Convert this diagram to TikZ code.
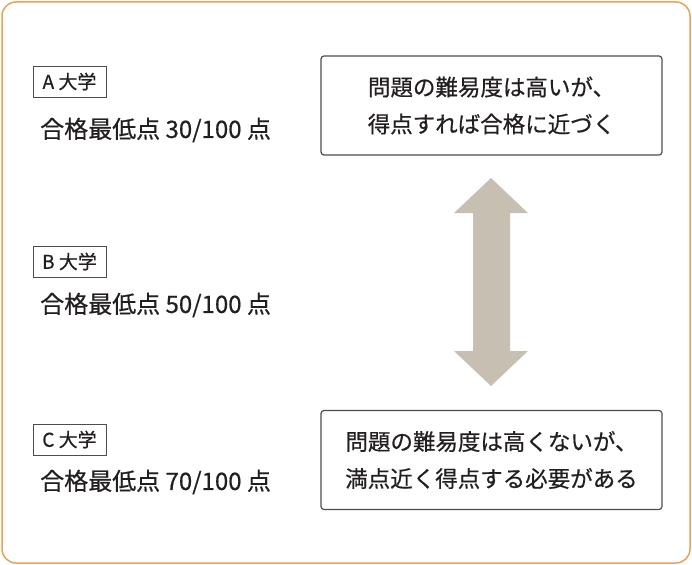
\documentclass[tikz,border=0pt]{standalone}
\usepackage{fontspec}
\setmainfont{Noto Sans CJK JP}[FakeBold=0.6]
\usetikzlibrary{arrows.meta}
\definecolor{frame}{HTML}{E8A25A}
\definecolor{arr}{HTML}{C8BFB3}
\definecolor{ink}{HTML}{231F20}
\tikzset{
  lab/.style={draw=ink!80, line width=0.9bp, minimum width=73bp, minimum height=31bp, inner sep=0, font=\fontsize{19bp}{22bp}\selectfont, text=ink},
  score/.style={anchor=west, inner sep=0, font=\fontsize{24bp}{28bp}\selectfont, text=ink},
  note/.style={draw=ink!80, line width=1.2bp, rounded corners=3bp, minimum width=341bp, minimum height=99bp, align=center, font=\fontsize{22.5bp}{37bp}\selectfont, text=ink}
}
\begin{document}
\begin{tikzpicture}[x=1bp,y=-1bp]
\useasboundingbox (0,0) rectangle (692,565);
\draw[frame, line width=1.5bp, rounded corners=14bp] (2,2) rectangle (690,563);
\node[lab] (la) at (69.5,81.5) {A 大学};
\node[score] (sa) at (40,130) {合格最低点 30/100 点};
\node[lab] (lb) at (69.5,261.5) {B 大学};
\node[score] (sb) at (40,305) {合格最低点 50/100 点};
\node[lab] (lc) at (69.5,439.5) {C 大学};
\node[score] (sc) at (40,482) {合格最低点 70/100 点};
\node[note] (na) at (491.5,105.5) {問題の難易度は高いが、\\得点すれば合格に近づく};
\node[note] (nc) at (491.5,460) {問題の難易度は高くないが、\\満点近く得点する必要がある};
\coordinate (t) at (491,178);
\coordinate (b) at (491,386);
\fill[arr] (t) -- (528,213) -- (510,213) -- (510,351) -- (528,351) -- (b) -- (454,351) -- (473,351) -- (473,213) -- (454,213) -- cycle;
\end{tikzpicture}
\end{document}
